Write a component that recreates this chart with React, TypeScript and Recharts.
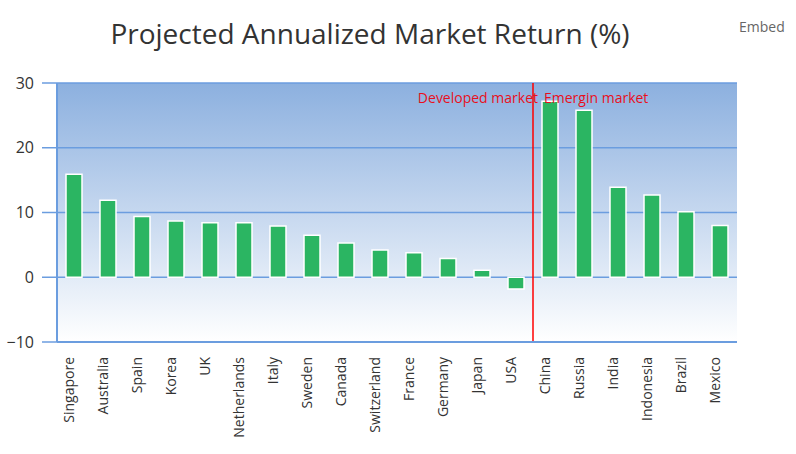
import React from "react";
import { BarChart, Bar, XAxis, YAxis, CartesianGrid, ReferenceLine } from "recharts";

const countries = [
  "Singapore", "Australia", "Spain", "Korea", "UK", "Netherlands", "Italy", "Sweden",
  "Canada", "Switzerland", "France", "Germany", "Japan", "USA",
  "China", "Russia", "India", "Indonesia", "Brazil", "Mexico",
];
const returns = [
  15.9, 11.9, 9.4, 8.7, 8.4, 8.4, 7.9, 6.5, 5.3, 4.2, 3.8, 2.9, 1.1, -1.8,
  27.2, 25.8, 13.9, 12.7, 10.1, 8.0,
];
const yTicks = [-10, 0, 10, 20, 30];
const firstEmerging = "China";

const data = countries.map((c, i) => ({ country: c, value: returns[i] }));

const BLUE = "#6b9ddf";
const FONT = "'Open Sans', sans-serif";

const RotatedTick = (props: any) => {
  const { x, y, payload } = props;
  return (
    <text
      transform={`translate(${x},${y}) rotate(-90)`}
      textAnchor="end"
      fill="#333"
      fontSize={14}
      fontFamily={FONT}
    >
      {payload.value}
    </text>
  );
};

const SplitLabel = (props: any) => {
  const vb = props.viewBox || {};
  const x = vb.x ?? 0;
  const y = vb.y ?? 0;
  return (
    <g fontFamily={FONT} fontSize={14} fill="#e8101c">
      <text x={x + 5} y={y + 20} textAnchor="end">Developed market</text>
      <text x={x + 11} y={y + 20} textAnchor="start">Emergin market</text>
    </g>
  );
};

export default function App() {
  return (
    <div style={{ position: "absolute", left: 0, top: 0, width: 796, height: 454, background: "#fff" }}>
      <div
        style={{
          position: "absolute", left: 0, width: 740, top: 14, textAlign: "center",
          fontFamily: FONT, fontSize: 28, color: "#333", whiteSpace: "nowrap", lineHeight: "normal",
        }}
      >
        Projected Annualized Market Return (%)
      </div>
      <div style={{ position: "absolute", left: 739, top: 17, fontFamily: FONT, fontSize: 14, color: "#666" }}>
        Embed
      </div>
      <BarChart
        width={796}
        height={454}
        data={data}
        margin={{ top: 83, right: 59, left: 0, bottom: 0 }}
        barSize={16}
      >
        <defs>
          <linearGradient id="plotBg" x1="0" y1="0" x2="0" y2="1">
            <stop offset="0%" stopColor="#8cb0df" />
            <stop offset="100%" stopColor="#ffffff" />
          </linearGradient>
        </defs>
        <CartesianGrid vertical={false} stroke={BLUE} strokeWidth={1.5} fill="url(#plotBg)" fillOpacity={1} />
        <XAxis
          dataKey="country"
          interval={0}
          height={112}
          tickLine={false}
          tickSize={0}
          tickMargin={15}
          axisLine={{ stroke: BLUE, strokeWidth: 2 }}
          tick={<RotatedTick />}
        />
        <YAxis
          domain={[-10, 30]}
          ticks={yTicks}
          width={57}
          tickSize={15}
          tickMargin={8}
          tickLine={{ stroke: BLUE, strokeWidth: 1.5 }}
          axisLine={{ stroke: BLUE, strokeWidth: 2 }}
          tickFormatter={(v: number) => String(v).replace("-", "\u2212")}
          tick={{ fill: "#333", fontSize: 16, fontFamily: FONT }}
        />
        <YAxis
          yAxisId="right"
          orientation="right"
          domain={[-10, 30]}
          width={0}
          tick={false}
          tickLine={false}
          axisLine={{ stroke: BLUE, strokeWidth: 2 }}
        />
        <Bar dataKey="value" fill="#2bb562" stroke="#ffffff" strokeWidth={1.5} isAnimationActive={false} />
        <ReferenceLine
          x={firstEmerging}
          position="start"
          stroke="#ff0000"
          strokeWidth={1.5}
          label={<SplitLabel />}
        />
      </BarChart>
    </div>
  );
}
